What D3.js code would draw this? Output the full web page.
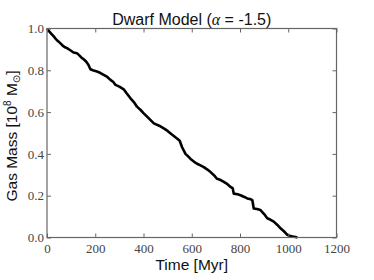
<!DOCTYPE html>
<html><head><meta charset="utf-8">
<script src="https://cdn.jsdelivr.net/npm/d3@7"></script>
<style>body{margin:0;background:#fff}svg{display:block}</style>
</head><body>
<script>
const times = [0,10,20,28,35,45,55,65,75,83,95,110,124,135,145,152,162,172,180,190,207,220,235,250,263,275,284,300,318,330,346,360,373,388,401,420,443,465,484,500,515,539,550,560,574,585,595,610,622,636,650,665,678,692,705,720,733,748,761,770,774,790,802,818,830,845,851,857,870,885,900,913,925,940,955,968,982,996,1005,1017,1030,1038];
const mass  = [1.0,0.985,0.972,0.962,0.952,0.94,0.93,0.918,0.91,0.906,0.897,0.885,0.882,0.87,0.858,0.853,0.842,0.825,0.805,0.8,0.794,0.788,0.778,0.768,0.754,0.744,0.73,0.722,0.709,0.69,0.666,0.648,0.626,0.61,0.594,0.572,0.546,0.535,0.522,0.51,0.495,0.474,0.463,0.432,0.4,0.388,0.376,0.362,0.353,0.345,0.337,0.325,0.313,0.298,0.281,0.275,0.266,0.255,0.242,0.235,0.21,0.207,0.202,0.194,0.187,0.183,0.179,0.139,0.136,0.131,0.112,0.092,0.086,0.076,0.06,0.044,0.03,0.013,0.008,0.005,0.002,0.0];
const xTicks = [0,200,400,600,800,1000,1200];
const yTicks = [0.0,0.2,0.4,0.6,0.8,1.0];

const W=374,H=280;
const m={l:47,r:336.5,t:28.5,b:237.5};
const svg=d3.select("body").append("svg").attr("width",W).attr("height",H);
const x=d3.scaleLinear().domain([0,1200]).range([m.l,m.r]);
const y=d3.scaleLinear().domain([0,1]).range([m.b,m.t]);
const serif="'Liberation Serif','DejaVu Serif',serif";
const sans="'Liberation Sans','DejaVu Sans',Arial,sans-serif";
const axCol="#666";

// line
svg.append("path").datum(times.map((t,i)=>[t,mass[i]]))
 .attr("fill","none").attr("stroke","#000").attr("stroke-width",2.6).attr("stroke-linejoin","round")
 .attr("d",d3.line().x(d=>x(d[0])).y(d=>y(d[1])));

// frame
svg.append("rect").attr("x",m.l).attr("y",m.t).attr("width",m.r-m.l).attr("height",m.b-m.t)
 .attr("fill","none").attr("stroke",axCol).attr("stroke-width",1.2);

function styleAxis(g){g.select(".domain").remove();g.selectAll(".tick line").attr("stroke",axCol);}
const bx=svg.append("g").attr("transform",`translate(0,${m.b})`)
 .call(d3.axisBottom(x).tickValues(xTicks).tickSize(-4).tickPadding(5).tickFormat(d3.format("d")));
styleAxis(bx);
bx.selectAll("text").attr("font-family",serif).attr("font-size",13).attr("fill","#444").attr("dy","0.8em");
const tx=svg.append("g").attr("transform",`translate(0,${m.t})`)
 .call(d3.axisTop(x).tickValues(xTicks).tickSize(-4).tickFormat(""));
styleAxis(tx);
const ly=svg.append("g").attr("transform",`translate(${m.l},0)`)
 .call(d3.axisLeft(y).tickValues(yTicks).tickSize(-4).tickPadding(3).tickFormat(d3.format(".1f")));
styleAxis(ly);
ly.selectAll("text").attr("font-family",serif).attr("font-size",13).attr("fill","#444");
const ry=svg.append("g").attr("transform",`translate(${m.r},0)`)
 .call(d3.axisRight(y).tickValues(yTicks).tickSize(-4).tickFormat(""));
styleAxis(ry);

// title
const title=svg.append("text").attr("x",(m.l+m.r)/2).attr("y",25).attr("text-anchor","middle")
 .attr("font-family",sans).attr("font-size",16).attr("fill","#111");
title.append("tspan").text("Dwarf Model (");
title.append("tspan").attr("font-family",serif).attr("font-style","italic").text("α");
title.append("tspan").text(" = -1.5)");

// x label
svg.append("text").attr("x",(m.l+m.r)/2).attr("y",270).attr("text-anchor","middle")
 .attr("font-family",sans).attr("font-size",15.5).attr("fill","#111").text("Time [Myr]");

// y label
const yl=svg.append("text").attr("transform",`translate(17,136) rotate(-90)`).attr("text-anchor","middle")
 .attr("font-family",sans).attr("font-size",15.5).attr("fill","#111");
yl.append("tspan").text("Gas Mass [10");
yl.append("tspan").attr("font-size",10).attr("dy",-6).text("8");
yl.append("tspan").attr("dy",6).text(" M");
yl.append("tspan").attr("font-size",10).attr("dy",3).text("⊙");
yl.append("tspan").attr("dy",-3).text("]");
</script>
</body></html>
